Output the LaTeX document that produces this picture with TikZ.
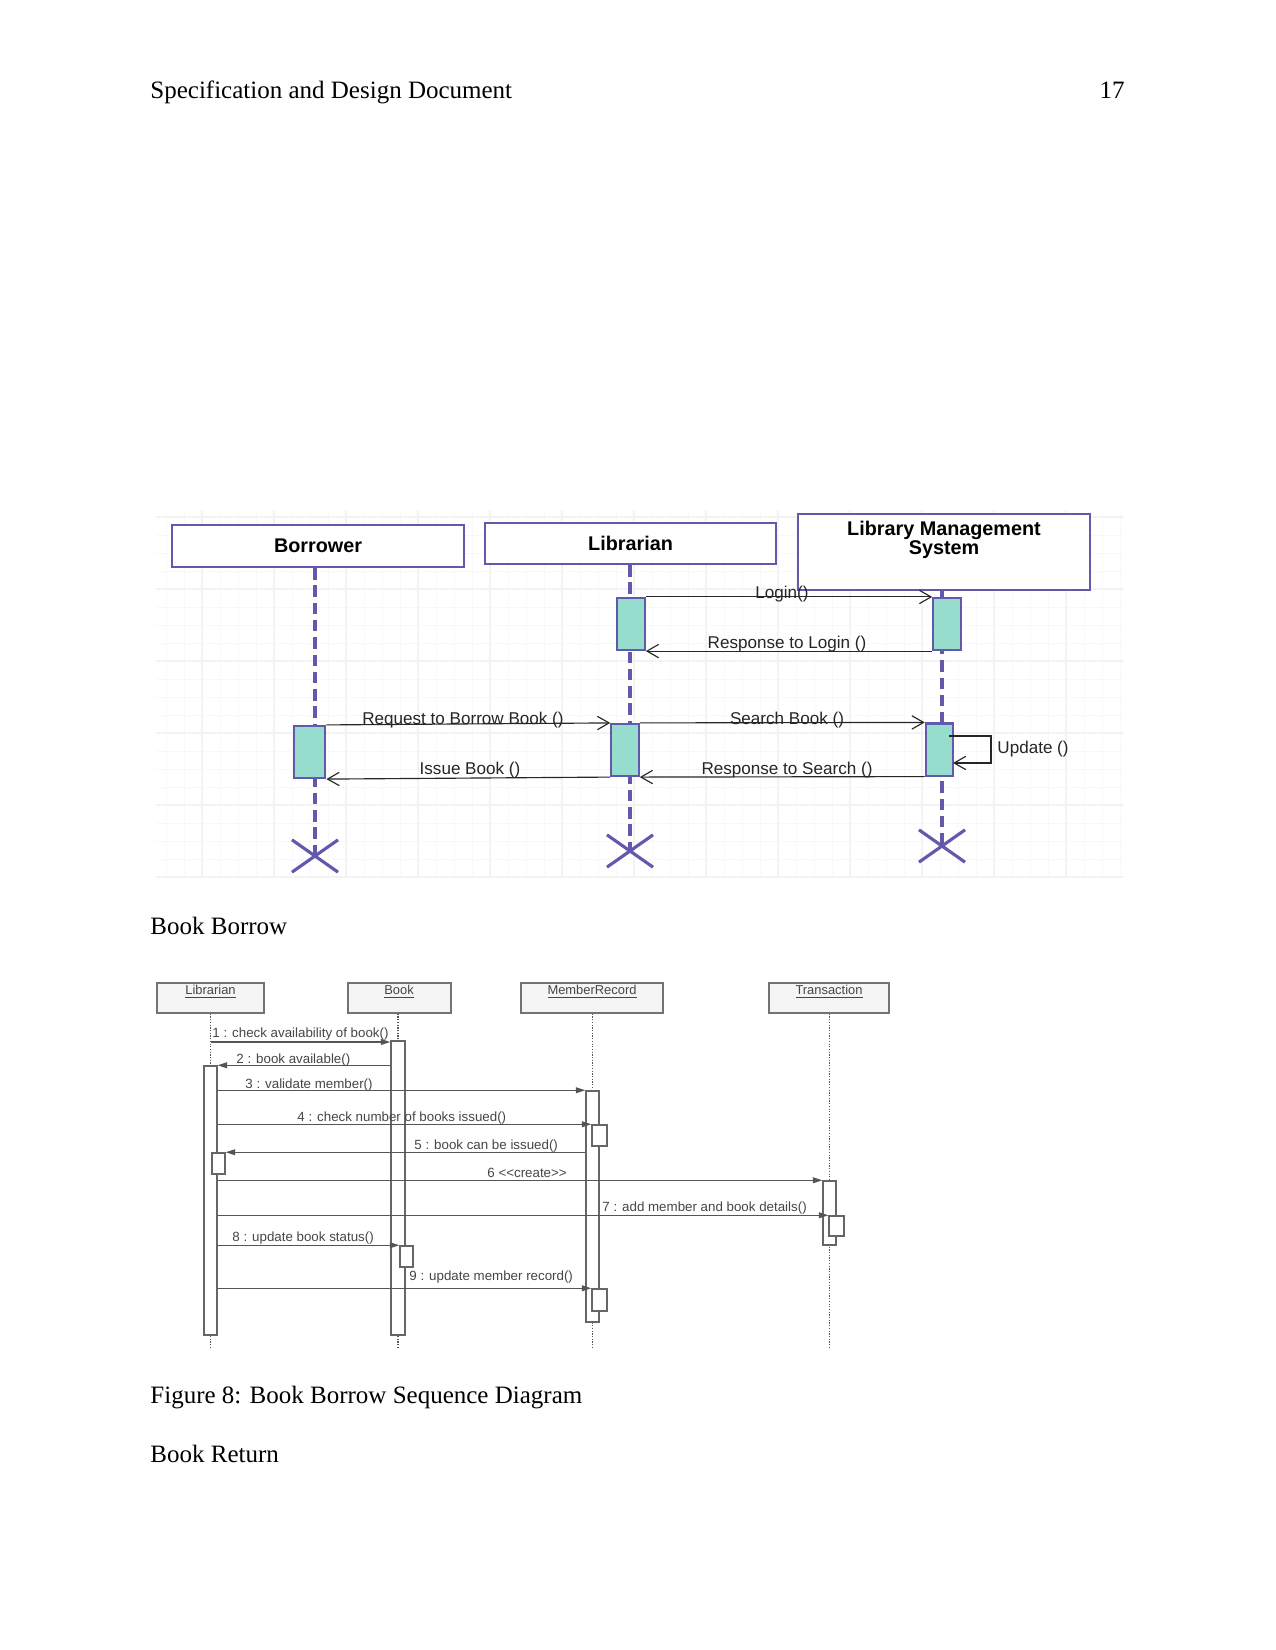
\documentclass[tikz,border=0pt]{standalone}
\usepackage{fontspec}
\setmainfont{Liberation Serif}
\newfontfamily\lsans{Liberation Sans}
\usetikzlibrary{arrows.meta,shapes.misc}

\definecolor{umlpurple}{RGB}{98,88,172}
\definecolor{actfill}{RGB}{150,221,206}
\definecolor{gridminor}{RGB}{248,248,250}
\definecolor{gridmajor}{RGB}{243,243,246}
\definecolor{bline}{RGB}{85,85,85}
\definecolor{btext}{RGB}{70,70,70}
\definecolor{bbox}{RGB}{245,245,245}

\tikzset{
  bodytext/.style={font=\fontsize{12}{14}\selectfont, inner sep=0pt, text=black},
  topbox/.style={draw=umlpurple, line width=1pt, fill=white, inner sep=0pt,
    font=\lsans\bfseries\fontsize{9.5}{9.2}\selectfont},
  lifeline/.style={umlpurple, line width=1.5pt, dash pattern=on 5.5pt off 2.8pt},
  topact/.style={draw=umlpurple, line width=1pt, fill=actfill, inner sep=0pt},
  destroy/.style={cross out, draw=umlpurple, line width=1.5pt, inner sep=0pt},
  topmsg/.style={black!85, line width=0.55pt, -{Straight Barb[length=5.6pt,width=6.4pt,line width=0.55pt]}},
  toplbl/.style={font=\lsans\fontsize{8.2}{10}\selectfont, text=black!85, inner sep=0pt, anchor=base},
  smallbox/.style={draw=black!55, line width=0.7pt, fill=bbox, inner sep=0pt},
  smalllbl/.style={font=\lsans\fontsize{6.2}{7}\selectfont, text=btext, inner sep=0pt},
  dotline/.style={bline, line width=0.6pt, dash pattern=on 0.6pt off 0.7pt},
  bact/.style={draw=black!60, line width=0.7pt, fill=white, inner sep=0pt},
  bmsg/.style={bline, line width=0.55pt, -{Triangle[length=4.5pt,width=2.8pt]}},
  blbl/.style={font=\lsans\fontsize{6.4}{7.5}\selectfont, text=btext, inner sep=0pt, anchor=base west},
}

\begin{document}
\begin{tikzpicture}[x=0.48pt,y=-0.48pt]
\useasboundingbox (0,0) rectangle (1275,1650);
\fill[white] (0,0) rectangle (1275,1650);

% ---------- page texts ----------
\node[bodytext, anchor=base west] (hdr) at (150,99) {Specification and Design Document};
\node[bodytext, anchor=base east] (pgno) at (1125,99) {17};
\node[bodytext, anchor=base west] (cap1) at (150,934) {Book Borrow};
\node[bodytext, anchor=base west] (cap2) at (150,1403) {Figure 8: Book Borrow Sequence Diagram};
\node[bodytext, anchor=base west] (cap3) at (150,1462) {Book Return};

% ---------- top diagram: grid ----------
\foreach \gx in {166,184,...,1124} \draw[gridminor, line width=0.4pt] (\gx,510) -- (\gx,878);
\foreach \gy in {517,535,...,878} \draw[gridminor, line width=0.4pt] (156,\gy) -- (1124,\gy);
\foreach \gx in {202,274,...,1124} \draw[gridmajor, line width=0.5pt] (\gx,510) -- (\gx,878);
\foreach \gy in {517,589,...,878} \draw[gridmajor, line width=0.5pt] (156,\gy) -- (1124,\gy);

% ---------- top diagram: heads ----------
\node[topbox, minimum width=140.2pt, minimum height=20.2pt] (borrower) at (318,546) {Borrower};
\node[topbox, minimum width=139.7pt, minimum height=19.7pt] (librarian) at (630.5,543.5) {Librarian};
\node[topbox, minimum width=140.2pt, minimum height=36.5pt] (lms) at (944,552) {};
\node[font=\lsans\bfseries\fontsize{9.5}{9.4}\selectfont, align=center, inner sep=0pt] (lmslbl) at (944,540) {Library Management\\System};

% destroy marks
\node[destroy, minimum width=20.6pt, minimum height=14pt] (bx) at (315,856) {};
\node[destroy, minimum width=20.6pt, minimum height=14pt] (lx) at (630,851) {};
\node[destroy, minimum width=20.6pt, minimum height=14pt] (mx) at (942,846) {};

% lifelines
\draw[lifeline] (borrower.south -| bx) -- (bx.center);
\draw[lifeline] (librarian.south -| lx) -- (lx.center);
\draw[lifeline] (lms.south -| mx) -- (mx.center);

% activations
\node[topact, minimum width=13.2pt, minimum height=25pt] (libact1) at (631,624) {};
\node[topact, minimum width=13.2pt, minimum height=25pt] (lmsact1) at (947,624) {};
\node[topact, minimum width=15.3pt, minimum height=25pt] (borract) at (309.5,752) {};
\node[topact, minimum width=13.2pt, minimum height=25pt] (libact2) at (625,750) {};
\node[topact, minimum width=13.2pt, minimum height=25pt] (lmsact2) at (939.5,749.5) {};

% messages
\draw[topmsg] (libact1.north east) -- (lmsact1.north west);
\draw[topmsg] (lmsact1.south west) -- (libact1.south east);
\draw[topmsg] (borract.north east) -- (libact2.north west);
\draw[topmsg] (libact2.south west) -- (borract.south east);
\draw[topmsg] (libact2.north east) -- (lmsact2.north west);
\draw[topmsg] (lmsact2.south west) -- (libact2.south east);
\coordinate (upd1) at (949,736);
\coordinate (upd2) at (953,763);
\draw[topmsg] (upd1) -- (991,736) -- (991,763) -- (upd2);

\node[toplbl] (l1) at (782,598) {Login()};
\node[toplbl] (l2) at (787,648) {Response to Login ()};
\node[toplbl] (l3) at (463,724) {Request to Borrow Book ()};
\node[toplbl] (l4) at (470,774) {Issue Book ()};
\node[toplbl] (l5) at (787,724) {Search Book ()};
\node[toplbl] (l6) at (787,774) {Response to Search ()};
\node[toplbl, anchor=base west] (l7) at (997,753) {Update ()};

% ---------- bottom diagram ----------
\node[smallbox, minimum width=51.4pt, minimum height=14.4pt] (lbox) at (210.5,998) {};
\node[smallbox, minimum width=49.4pt, minimum height=14.4pt] (bkbox) at (399.5,998) {};
\node[smallbox, minimum width=68.2pt, minimum height=14.4pt] (mbox) at (592,998) {};
\node[smallbox, minimum width=57.6pt, minimum height=14.4pt] (tbox) at (829,998) {};
\node[smalllbl] (lboxl) at (210.5,992) {\underline{Librarian}};
\node[smalllbl] (bkboxl) at (399,992) {\underline{Book}};
\node[smalllbl] (mboxl) at (592,992) {\underline{MemberRecord}};
\node[smalllbl] (tboxl) at (829,992) {\underline{Transaction}};

\coordinate (lend) at (210.5,1347);
\coordinate (bend) at (398,1347);
\coordinate (mend) at (592.5,1347);
\coordinate (tend) at (829.5,1347);
\draw[dotline] (lbox.south) -- (lend);
\draw[dotline] (bkbox.south -| bend) -- (bend);
\draw[dotline] (mbox.south -| mend) -- (mend);
\draw[dotline] (tbox.south -| tend) -- (tend);

% activations
\node[bact, minimum width=6.2pt, minimum height=129.1pt] (la) at (210.5,1200.5) {};
\node[bact, minimum width=6.7pt, minimum height=141.1pt] (ba) at (398,1188) {};
\node[bact, minimum width=6.2pt, minimum height=110.9pt] (ma) at (592.5,1206.5) {};
\node[bact, minimum width=6.2pt, minimum height=30.7pt] (ta) at (829.5,1213) {};
\node[bact, minimum width=7.2pt, minimum height=10.1pt] (mn1) at (599.5,1135.5) {};
\node[bact, minimum width=6.2pt, minimum height=10.1pt] (ln) at (218.5,1163.5) {};
\node[bact, minimum width=7.2pt, minimum height=9.6pt] (tn) at (836.5,1226) {};
\node[bact, minimum width=6.2pt, minimum height=10.1pt] (bn) at (406.5,1256.5) {};
\node[bact, minimum width=7.2pt, minimum height=10.6pt] (mn2) at (599.5,1300) {};

% messages
\coordinate (m1s) at (210.5,1042);
\draw[bmsg] (m1s) -- (ba.west |- m1s);
\draw[bmsg] (ba.west |- la.north) -- (la.north east);
\draw[bmsg] (la.east |- ma.north) -- (ma.north west);
\draw[bmsg] (la.east |- mn1.north) -- (mn1.north west);
\draw[bmsg] (ma.west |- ln.north) -- (ln.north east);
\draw[bmsg] (la.east |- ta.north) -- (ta.north west);
\draw[bmsg] (la.east |- tn.north) -- (tn.north west);
\draw[bmsg] (la.east |- bn.north) -- (bn.north west);
\draw[bmsg] (la.east |- mn2.north) -- (mn2.north west);

\node[blbl] (t1) at (212,1037) {1 : check availability of book()};
\node[blbl] (t2) at (236,1063) {2 : book available()};
\node[blbl] (t3) at (245,1088) {3 : validate member()};
\node[blbl] (t4) at (297,1121) {4 : check number of books issued()};
\node[blbl] (t5) at (414,1149) {5 : book can be issued()};
\node[blbl] (t6) at (487,1177) {6 <\kern0pt<create>\kern0pt>};
\node[blbl] (t7) at (602,1211) {7 : add member and book details()};
\node[blbl] (t8) at (232,1241) {8 : update book status()};
\node[blbl] (t9) at (409,1280) {9 : update member record()};
\end{tikzpicture}
\end{document}
